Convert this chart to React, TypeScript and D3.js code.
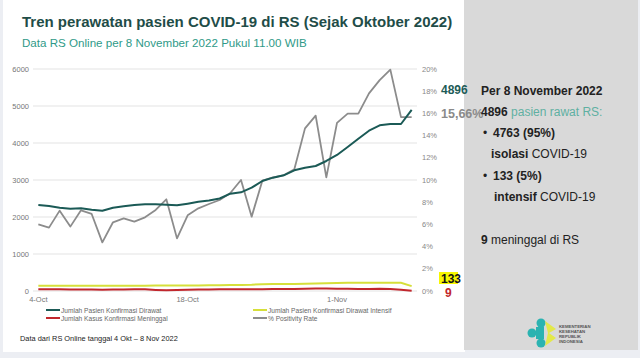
import React from "react";
import * as d3 from "d3";

const dates: string[] = [
  "4-Oct","5-Oct","6-Oct","7-Oct","8-Oct","9-Oct","10-Oct","11-Oct","12-Oct","13-Oct","14-Oct","15-Oct",
  "16-Oct","17-Oct","18-Oct","19-Oct","20-Oct","21-Oct","22-Oct","23-Oct","24-Oct","25-Oct","26-Oct","27-Oct",
  "28-Oct","29-Oct","30-Oct","31-Oct","1-Nov","2-Nov","3-Nov","4-Nov","5-Nov","6-Nov","7-Nov","8-Nov",
];
const xTickLabels: string[] = ["4-Oct", "18-Oct", "1-Nov"];
const dirawat: number[] = [
  2324, 2297, 2252, 2225, 2234, 2198, 2171, 2252, 2288, 2324, 2342, 2342,
  2333, 2315, 2360, 2410, 2445, 2500, 2631, 2667, 2793, 2973, 3063, 3126,
  3261, 3333, 3378, 3514, 3676, 3892, 4117, 4333, 4477, 4513, 4513, 4896,
];
const intensif: number[] = [
  143, 143, 142, 141, 140, 140, 141, 142, 143, 144, 145, 146,
  147, 148, 150, 152, 155, 158, 160, 162, 170, 185, 188, 190,
  192, 195, 200, 210, 218, 225, 225, 226, 226, 225, 224, 133,
];
const meninggal: number[] = [
  46, 45, 44, 42, 40, 38, 36, 38, 42, 45, 44, 30,
  22, 28, 35, 40, 42, 44, 45, 46, 48, 50, 52, 54,
  56, 60, 66, 70, 64, 58, 56, 55, 58, 52, 36, 9,
];
const positivity: number[] = [
  6.01, 5.71, 7.24, 5.8, 7.27, 6.94, 4.38, 6.19, 6.55, 6.25, 6.64, 7.3,
  8.26, 4.74, 6.82, 7.45, 7.84, 8.2, 8.83, 10.0, 6.7, 9.94, 10.24, 10.42,
  10.96, 14.65, 15.8, 10.24, 15.14, 15.98, 15.98, 17.8, 19.0, 19.94, 15.66, 15.66,
];
const leftTicks: number[] = [0, 1000, 2000, 3000, 4000, 5000, 6000];
const rightTicks: number[] = [0, 2, 4, 6, 8, 10, 12, 14, 16, 18, 20];
const legendItems: string[] = [
  "Jumlah Pasien Konfirmasi Dirawat",
  "Jumlah Kasus Konfirmasi Meninggal",
  "Jumlah Pasien Konfirmasi Dirawat Intensif",
  "% Positivity Rate",
];

const TEAL = "#1b5a56";
const GRAY = "#8c8c8c";
const YELLOW = "#d6df3a";
const RED = "#c1272d";
const FONT = "'Liberation Sans', Arial, sans-serif";

export default function App() {
  const x = d3.scalePoint<string>().domain(dates).range([33, 417]).padding(0.5);
  const yL = d3.scaleLinear().domain([0, 6000]).range([291, 69]);
  const yR = d3.scaleLinear().domain([0, 20]).range([291, 69]);

  const lineL = d3
    .line<number>()
    .x((_, i) => x(dates[i]) as number)
    .y((d) => yL(d));
  const lineR = d3
    .line<number>()
    .x((_, i) => x(dates[i]) as number)
    .y((d) => yR(d));

  const legendColors = [TEAL, RED, YELLOW, GRAY];
  const legendPos = [
    { x: 46, y: 312 },
    { x: 46, y: 320 },
    { x: 253, y: 312 },
    { x: 253, y: 320 },
  ];

  return (
    <svg
      width={640}
      height={358}
      style={{ position: "absolute", left: 0, top: 0, fontFamily: FONT }}
    >
      <rect x={0} y={0} width={640} height={358} fill="#eceef3" />
      <rect x={3} y={0} width={462} height={352} fill="#ffffff" />
      <rect x={464} y={0} width={174} height={350} fill="#d9d9d9" />

      <text x={22} y={27} fontSize={15} fontWeight="bold" fill="#1f4d48">
        Tren perawatan pasien COVID-19 di RS (Sejak Oktober 2022)
      </text>
      <text x={22} y={47} fontSize={11.6} fill="#2f9a88">
        Data RS Online per 8 November 2022 Pukul 11.00 WIB
      </text>

      {leftTicks.map((t) => (
        <g key={"l" + t}>
          <line x1={33} x2={417} y1={yL(t)} y2={yL(t)} stroke="#e3e3e3" strokeWidth={1} />
          <text x={29} y={yL(t) + 2.5} fontSize={7.5} fill="#777" textAnchor="end">
            {t}
          </text>
        </g>
      ))}
      {rightTicks.map((t) => (
        <text key={"r" + t} x={422} y={yR(t) + 2.5} fontSize={7.5} fill="#888">
          {t + "%"}
        </text>
      ))}
      {xTickLabels.map((d) => (
        <text key={d} x={x(d) as number} y={302} fontSize={7.5} fill="#777" textAnchor="middle">
          {d}
        </text>
      ))}

      <path d={lineL(intensif) || ""} fill="none" stroke={YELLOW} strokeWidth={2} />
      <path d={lineL(meninggal) || ""} fill="none" stroke={RED} strokeWidth={2} />
      <path d={lineR(positivity) || ""} fill="none" stroke={GRAY} strokeWidth={1.8} strokeLinejoin="round" />
      <path d={lineL(dirawat) || ""} fill="none" stroke={TEAL} strokeWidth={2} strokeLinejoin="round" />

      <text x={441} y={94} fontSize={12} fontWeight="bold" fill="#1d5c57">
        {dirawat[dirawat.length - 1]}
      </text>
      <text x={441} y={118} fontSize={12.5} fontWeight="bold" fill="#8a8a8a">
        {"15,66%"}
      </text>
      <rect x={439} y={272} width={19} height={12} fill="#f7f700" />
      <text x={441} y={282.5} fontSize={12} fontWeight="bold" fill="#111">
        {intensif[intensif.length - 1]}
      </text>
      <text x={445} y={297} fontSize={12} fontWeight="bold" fill="#c1272d">
        {meninggal[meninggal.length - 1]}
      </text>

      {legendItems.map((l, i) => (
        <g key={l}>
          <line
            x1={legendPos[i].x}
            x2={legendPos[i].x + 14}
            y1={legendPos[i].y - 2}
            y2={legendPos[i].y - 2}
            stroke={legendColors[i]}
            strokeWidth={2}
          />
          <text x={legendPos[i].x + 15} y={legendPos[i].y + 0.5} fontSize={6.6} fill="#666">
            {l}
          </text>
        </g>
      ))}

      <text x={20} y={341} fontSize={7.4} fill="#222">
        Data dari RS Online tanggal 4 Okt – 8 Nov 2022
      </text>

      <g fontSize={12} fill="#222">
        <text x={481} y={95} fontWeight="bold">Per 8 November 2022</text>
        <text x={481} y={116}>
          <tspan fontWeight="bold">4896</tspan>
          <tspan fill="#5fb0a2"> pasien rawat RS:</tspan>
        </text>
        <text x={483} y={137}>•</text>
        <text x={493} y={137} fontWeight="bold">4763 (95%)</text>
        <text x={491} y={158}>
          <tspan fontWeight="bold">isolasi</tspan>
          <tspan> COVID-19</tspan>
        </text>
        <text x={483} y={180}>•</text>
        <text x={493} y={180} fontWeight="bold">133 (5%)</text>
        <text x={494} y={201}>
          <tspan fontWeight="bold">intensif</tspan>
          <tspan> COVID-19</tspan>
        </text>
        <text x={481} y={244}>
          <tspan fontWeight="bold">9</tspan>
          <tspan> meninggal di RS</tspan>
        </text>
      </g>

      <g>
        <circle cx={541} cy={323} r={4.5} fill="#2bb3b1" />
        <circle cx={532} cy={333} r={4.5} fill="#2bb3b1" />
        <circle cx={541} cy={343} r={4.5} fill="#2bb3b1" />
        <rect x={536} y={327} width={8} height={12} fill="#2bb3b1" />
        <path d="M545,321 L556,329 L549,333 L556,338 L545,346 L548,333 Z" fill="#e3e84a" />
        <g fontSize={4.3} fill="#555" fontWeight="bold">
          <text x={559} y={328}>KEMENTERIAN</text>
          <text x={559} y={333}>KESEHATAN</text>
          <text x={559} y={338}>REPUBLIK</text>
          <text x={559} y={343}>INDONESIA</text>
        </g>
      </g>
    </svg>
  );
}
